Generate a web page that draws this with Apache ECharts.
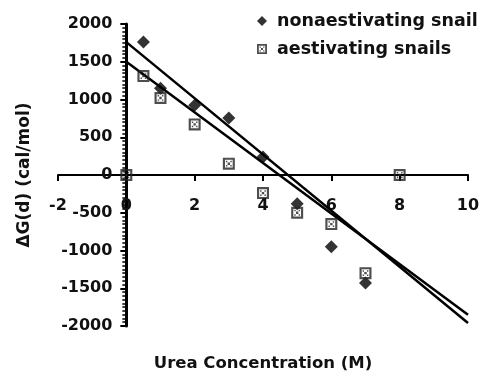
<!DOCTYPE html>
<html>
<head>
<meta charset="utf-8">
<script src="https://cdn.jsdelivr.net/npm/echarts@6/dist/echarts.min.js"></script>
<style>
  html, body { margin: 0; padding: 0; background: #fff; }
  #chart { width: 483px; height: 373px; }
</style>
</head>
<body>
<div id="chart"></div>
<script>
// 非夏眠蜗牛
const concNon = [0.5, 1, 2, 3, 4, 5, 6, 7]
const dgNon = [1760, 1150, 925, 755, 240, -380, -950, -1430]

// 夏眠蜗牛
const concAes = [0, 0.5, 1, 2, 3, 4, 5, 6, 7, 8]
const dgAes = [0, 1310, 1020, 670, 150, -240, -500, -650, -1300, 0]

// 拟合直线（两端点）
const fitX = [0, 10]
const fitNon = [1760, -1960]
const fitAes = [1500, -1850]

const xTicks = [-2, 0, 2, 4, 6, 8, 10]
const yTicks = [-2000, -1500, -1000, -500, 0, 500, 1000, 1500, 2000]

const font = 'DejaVu Sans'
const pairs = (xs, ys) => xs.map((x, i) => [x, ys[i]])

// 带十字花纹的方块标记
const aesSymbol = 'path://M0,0H10V10H0Z M1.8,1.8V8.2H8.2V1.8Z M4,4H6V6H4Z M2.6,2.6H3.8V3.8H2.6Z M6.2,2.6H7.4V3.8H6.2Z M2.6,6.2H3.8V7.4H2.6Z M6.2,6.2H7.4V7.4H6.2Z'

// 坐标轴交于原点：用 offset 把轴移到 0 处
const gridLeft = 58, gridRight = 15, gridTop = 24, gridBottom = 47
const plotW = 483 - gridLeft - gridRight
const plotH = 373 - gridTop - gridBottom
const yAxisOffset = -plotW * (0 - xTicks[0]) / (xTicks[xTicks.length - 1] - xTicks[0])
const xAxisOffset = -plotH * (0 - yTicks[0]) / (yTicks[yTicks.length - 1] - yTicks[0])

const chart = echarts.init(document.getElementById('chart'))

chart.setOption({
  animation: false,
  legend: {
    left: 252,
    top: 7,
    orient: 'vertical',
    itemWidth: 10,
    itemHeight: 10,
    itemGap: 10,
    data: ['nonaestivating snail', 'aestivating snails'],
    textStyle: {
      fontFamily: font,
      fontWeight: 'bold',
      fontSize: 17.5,
      color: '#111',
      padding: [0, 0, 0, 5],
    },
  },
  grid: {
    left: gridLeft,
    right: gridRight,
    top: gridTop,
    bottom: gridBottom,
    containLabel: false,
    outerBoundsMode: 'none',
  },
  xAxis: {
    type: 'value',
    position: 'bottom',
    offset: xAxisOffset,
    min: xTicks[0],
    max: xTicks[xTicks.length - 1],
    interval: 2,
    name: 'Urea Concentration (M)',
    nameLocation: 'middle',
    nameGap: 180,
    nameTextStyle: { fontFamily: font, fontWeight: 'bold', fontSize: 16.5, color: '#111' },
    axisLine: { onZero: false, lineStyle: { color: '#000', width: 2 } },
    axisTick: { show: true, length: 6, lineStyle: { color: '#000', width: 2 } },
    axisLabel: {
      margin: 23,
      fontFamily: font,
      fontWeight: 'bold',
      fontSize: 16,
      color: '#111',
      formatter: (v) => String(v),
    },
    splitLine: { show: false },
  },
  yAxis: {
    type: 'value',
    position: 'left',
    offset: yAxisOffset,
    min: yTicks[0],
    max: yTicks[yTicks.length - 1],
    interval: 500,
    name: 'ΔG(d) (cal/mol)',
    nameLocation: 'middle',
    nameGap: 93,
    nameTextStyle: { fontFamily: font, fontWeight: 'bold', fontSize: 17, color: '#111' },
    axisLine: { onZero: false, lineStyle: { color: '#000', width: 3 } },
    axisTick: { show: true, length: 6, lineStyle: { color: '#000', width: 2 } },
    minorTick: { show: true, splitNumber: 10, length: 4, lineStyle: { color: '#000', width: 1.5 } },
    axisLabel: {
      margin: 14,
      fontFamily: font,
      fontWeight: 'bold',
      fontSize: 16,
      color: '#111',
      formatter: (v) => String(v),
    },
    splitLine: { show: false },
  },
  series: [
    {
      name: 'nonaestivating snail',
      type: 'scatter',
      symbol: 'diamond',
      symbolSize: 13,
      itemStyle: { color: '#000' },
      data: pairs(concNon, dgNon),
      z: 3,
    },
    {
      name: 'aestivating snails',
      type: 'scatter',
      symbol: aesSymbol,
      symbolSize: 12,
      itemStyle: { color: '#222' },
      data: pairs(concAes, dgAes),
      z: 3,
    },
    {
      name: 'fit-non',
      type: 'line',
      showSymbol: false,
      lineStyle: { color: '#000', width: 2.5 },
      data: pairs(fitX, fitNon),
      z: 2,
    },
    {
      name: 'fit-aes',
      type: 'line',
      showSymbol: false,
      lineStyle: { color: '#000', width: 2.5 },
      data: pairs(fitX, fitAes),
      z: 2,
    },
  ],
})
</script>
</body>
</html>
